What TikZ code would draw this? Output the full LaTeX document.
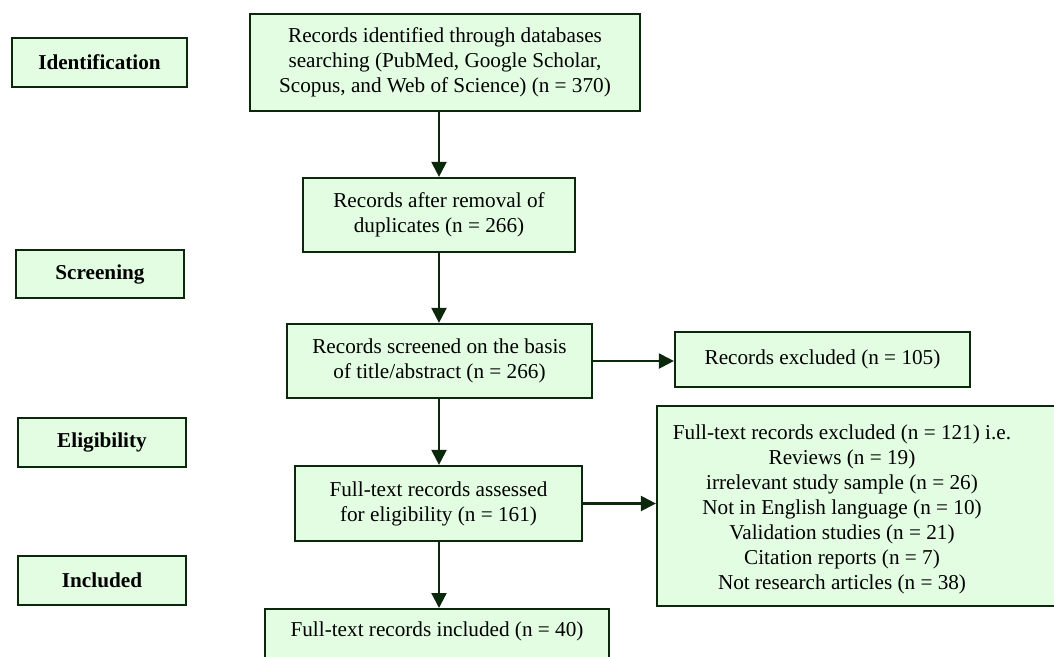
\documentclass[tikz,border=0pt]{standalone}
\usepackage{fontspec}
\setmainfont{Liberation Serif}
\usetikzlibrary{arrows.meta}
\definecolor{boxfill}{RGB}{226,253,226}
\definecolor{boxdraw}{RGB}{12,40,12}
\tikzset{
  flowbox/.style={draw=boxdraw, fill=boxfill, line width=2.2pt, inner sep=0pt, align=center, font=\fontsize{21.2}{25}\selectfont},
  stagebox/.style={flowbox, font=\fontsize{21.2}{25}\selectfont\bfseries},
  flowtext/.style={inner sep=0pt, align=center, font=\fontsize{21.2}{25}\selectfont},
  flowarrow/.style={draw=boxdraw, line width=2.2pt, -{Triangle[length=15pt,width=15pt]}}
}
\begin{document}
\begin{tikzpicture}[x=1pt,y=-1pt]
\useasboundingbox (0,0) rectangle (1054,656);
% stage labels
\node[stagebox, minimum width=175pt, minimum height=49pt] (ident) at (99.5,62.5) {Identification};
\node[stagebox, minimum width=168pt, minimum height=48pt] (screen) at (100,274) {Screening};
\node[stagebox, minimum width=168pt, minimum height=49pt] (elig) at (102,442.5) {Eligibility};
\node[stagebox, minimum width=168pt, minimum height=49pt] (incl) at (102,580.5) {Included};
% flow boxes
\node[flowbox, minimum width=390pt, minimum height=97pt] (A) at (445,62.5) {Records identified through databases\\searching (PubMed, Google Scholar,\\Scopus, and Web of Science) (n = 370)};
\node[flowbox, minimum width=272pt, minimum height=74pt] (B) at (439,215) {Records after removal of\\duplicates (n = 266)};
\node[flowbox, minimum width=305pt, minimum height=74pt] (C) at (439.5,361) {Records screened on the basis\\of title/abstract (n = 266)};
\node[flowbox, minimum width=295pt, minimum height=55pt] (D) at (822.5,359.5) {Records excluded (n = 105)};
\node[flowbox, minimum width=420pt, minimum height=200pt] (E) at (867,506) {};
\node[flowtext] (Etext) at (842,509) {Full-text records excluded (n = 121) i.e.\\Reviews (n = 19)\\irrelevant study sample (n = 26)\\Not in English language (n = 10)\\Validation studies (n = 21)\\Citation reports (n = 7)\\Not research articles (n = 38)};
\node[flowbox, minimum width=287pt, minimum height=75pt] (F) at (438.5,503.5) {Full-text records assessed\\for eligibility (n = 161)};
\node[flowbox, minimum width=344pt, text height=27pt, text depth=32pt, anchor=north] (G) at (437,608) {Full-text records included (n = 40)};
% connectors
\draw[flowarrow] (B.north |- A.south) -- (B.north);
\draw[flowarrow] (B.south) -- (B.south |- C.north);
\draw[flowarrow] (C.east) -- (C.east -| D.west);
\draw[flowarrow] (B.south |- C.south) -- (B.south |- F.north);
\draw[flowarrow] (F.east) -- (F.east -| E.west);
\draw[flowarrow] (B.south |- F.south) -- (B.south |- G.north);
\end{tikzpicture}
\end{document}
